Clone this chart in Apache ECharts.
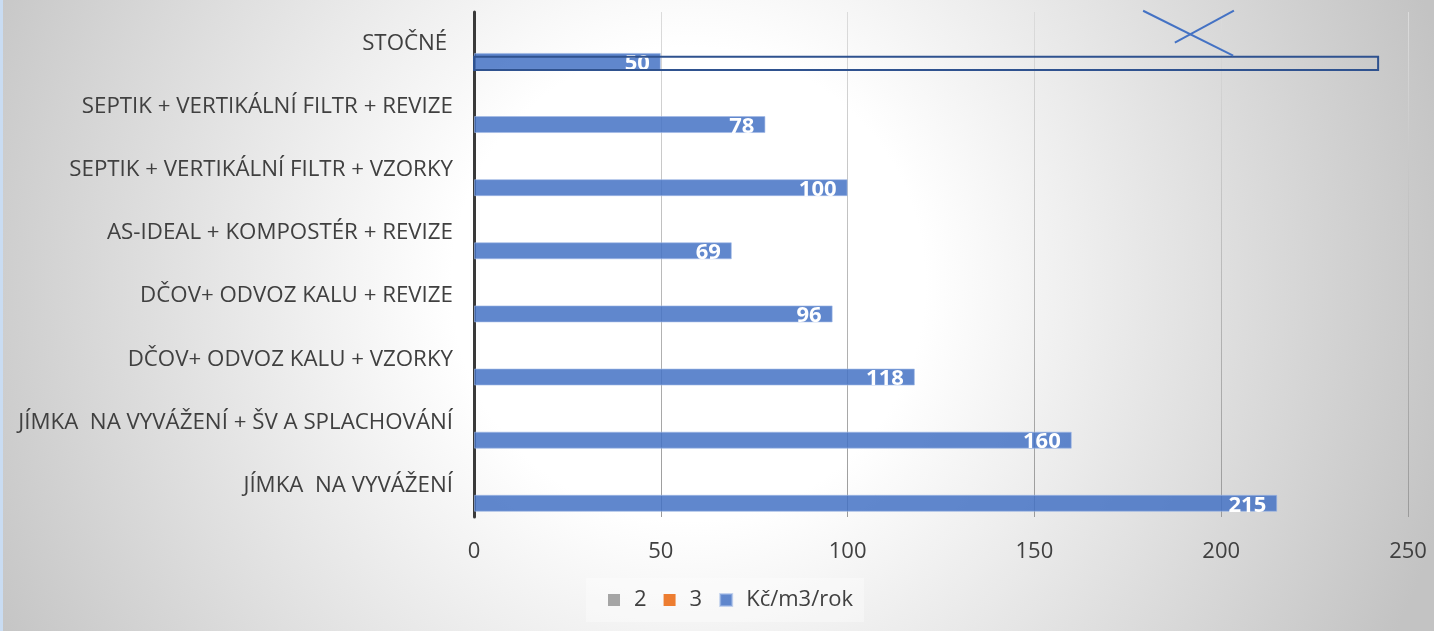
<!DOCTYPE html>
<html>
<head>
<meta charset="utf-8">
<script src="https://cdn.jsdelivr.net/npm/echarts@6/dist/echarts.min.js"></script>
<style>
  html, body { margin: 0; padding: 0; }
  #chart { width: 1434px; height: 631px; }
</style>
</head>
<body>
<div id="chart"></div>
<script>
// Categories, listed from the bottom of the chart to the top
const categories = [
  'JÍMKA  NA VYVÁŽENÍ',
  'JÍMKA  NA VYVÁŽENÍ + ŠV A SPLACHOVÁNÍ',
  'DČOV+ ODVOZ KALU + VZORKY',
  'DČOV+ ODVOZ KALU + REVIZE',
  'AS-IDEAL + KOMPOSTÉR + REVIZE',
  'SEPTIK + VERTIKÁLNÍ FILTR + VZORKY',
  'SEPTIK + VERTIKÁLNÍ FILTR + REVIZE',
  'STOČNÉ '
];
// Annual cost per m3 (Kč/m3/rok)
const costPerM3 = [215, 160, 118, 96, 69, 100, 78, 50];
// Two empty helper series that only appear in the legend
const series2 = categories.map(() => null);
const series3 = categories.map(() => null);
const seriesNames = ['2', '3', 'Kč/m3/rok'];
// Value axis
const axisMin = 0;
const axisMax = 250;
const axisStep = 50;
// Crossed-out outline drawn over the sewer charge row: [value end, category]
const crossedOut = [[242, categories.length - 1]];

const FONT = '"Open Sans", "DejaVu Sans", sans-serif';
const TEXT = '#404040';

const chart = echarts.init(document.getElementById('chart'), null, { renderer: 'canvas' });

chart.setOption({
  animation: false,
  backgroundColor: {
    type: 'radial', x: 0.48, y: 0.45, r: 1.25,
    colorStops: [
      { offset: 0, color: '#ffffff' },
      { offset: 0.3, color: '#ffffff' },
      { offset: 1, color: '#c3c3c3' }
    ]
  },
  textStyle: { fontFamily: FONT },
  graphic: [{
    type: 'rect', left: 0, top: 0, silent: true,
    shape: { width: 3, height: 631 },
    style: { fill: '#c9dcf2' }
  }],
  grid: { left: 474, right: 26, top: 12, bottom: 114, containLabel: false },
  legend: {
    data: seriesNames,
    left: 586, top: 578,
    padding: [11, 11, 11, 22],
    backgroundColor: 'rgba(255,255,255,0.35)',
    itemWidth: 12, itemHeight: 12, itemGap: 17,
    icon: 'rect',
    textStyle: { fontSize: 22, color: TEXT, fontFamily: FONT, padding: [0, 0, 0, 9] }
  },
  xAxis: {
    type: 'value',
    min: axisMin, max: axisMax, interval: axisStep,
    axisLine: { show: false },
    axisTick: { show: false },
    axisLabel: { fontSize: 22, color: TEXT, fontFamily: FONT, margin: 24 },
    splitLine: {
      show: true,
      lineStyle: {
        width: 1,
        color: {
          type: 'linear', x: 0, y: 0, x2: 0, y2: 1,
          colorStops: [
            { offset: 0, color: '#dcdcdc' },
            { offset: 1, color: '#9a9a9a' }
          ]
        }
      }
    }
  },
  yAxis: {
    type: 'category',
    data: categories,
    axisLine: { show: true, lineStyle: { color: '#3a3a3a', width: 3 } },
    axisTick: { show: false },
    axisLabel: { fontSize: 22.3, color: TEXT, fontFamily: FONT, margin: 21 },
    splitLine: { show: false }
  },
  series: [
    {
      name: seriesNames[0], type: 'bar', data: series2,
      itemStyle: { color: '#a5a5a5' }, barWidth: 17, barGap: '5%'
    },
    {
      name: seriesNames[1], type: 'bar', data: series3,
      itemStyle: { color: '#ed7d31' }, barWidth: 17, barGap: '5%'
    },
    {
      name: seriesNames[2], type: 'bar', data: costPerM3,
      barWidth: 17, barGap: '5%',
      itemStyle: {
        color: 'rgba(68,114,196,0.85)',
        borderColor: 'rgba(160,185,230,0.6)', borderWidth: 1
      },
      label: {
        show: true, position: 'insideRight', distance: 11,
        offset: [0, 2],
        color: '#ffffff', fontWeight: 'bold', fontSize: 22, fontFamily: FONT
      }
    },
    {
      // outline and cross marking the sewer charge row
      type: 'custom',
      clip: false,
      z: 5,
      silent: true,
      encode: { x: 0, y: 1 },
      data: crossedOut,
      renderItem: function (params, api) {
        const end = api.value(0);
        const cat = api.value(1);
        const band = api.size([0, 1])[1];
        const origin = api.coord([0, cat]);
        const cy = origin[1];
        const pt = (v, f) => [api.coord([v, cat])[0], cy + f * band];
        const stroke = '#2f528f';
        const cross = '#4472c4';
        const a = pt(0, 0.21), b = pt(end, 0.42);
        const l1a = pt(179.1, -0.52), l1b = pt(203.2, 0.19);
        const l2a = pt(187.6, -0.014), l2b = pt(203.4, -0.52);
        return {
          type: 'group',
          children: [
            {
              type: 'rect',
              shape: { x: a[0], y: a[1], width: b[0] - a[0], height: b[1] - a[1] },
              style: { fill: 'none', stroke: stroke, lineWidth: 2 }
            },
            {
              type: 'line',
              shape: { x1: l1a[0], y1: l1a[1], x2: l1b[0], y2: l1b[1] },
              style: { stroke: cross, lineWidth: 2 }
            },
            {
              type: 'line',
              shape: { x1: l2a[0], y1: l2a[1], x2: l2b[0], y2: l2b[1] },
              style: { stroke: cross, lineWidth: 2 }
            }
          ]
        };
      }
    }
  ]
});
</script>
</body>
</html>
